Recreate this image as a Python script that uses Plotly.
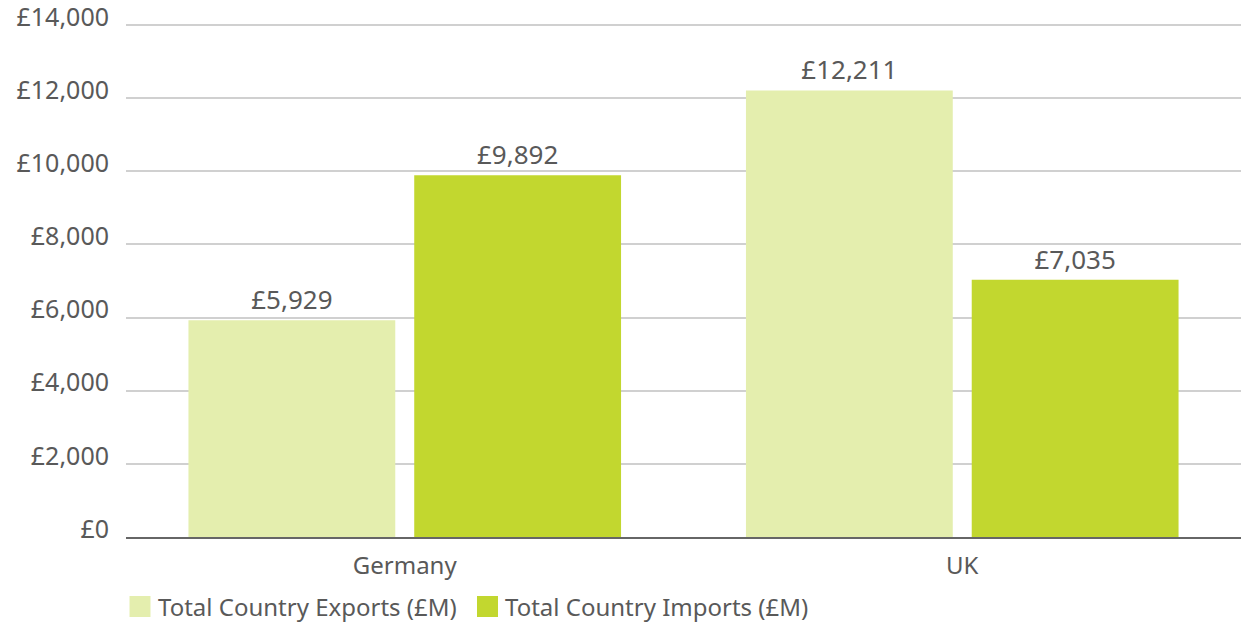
import plotly.graph_objects as go

countries = ["Germany", "UK"]
exports = [5929, 12211]
imports = [9892, 7035]
series_names = ["Total Country Exports (£M)", "Total Country Imports (£M)"]
series_colors = ["#e4eeae", "#c2d72f"]
y_ticks = [0, 2000, 4000, 6000, 8000, 10000, 12000, 14000]
y_tick_labels = ["£0", "£2,000", "£4,000", "£6,000", "£8,000", "£10,000", "£12,000", "£14,000"]

FONT = "Noto Sans, Lato, sans-serif"
TEXT = "#595959"

W, H = 1241, 624
M = dict(l=126, r=0, t=23, b=87)
plot_w = W - M["l"] - M["r"]
plot_h = H - M["t"] - M["b"]


def px_x(px):
    # page pixel -> paper x
    return (px - M["l"]) / plot_w


def px_y(py):
    # page pixel -> paper y
    return (H - M["b"] - py) / plot_h


fig = go.Figure()
for name, vals, color in zip(series_names, [exports, imports], series_colors):
    fig.add_trace(go.Bar(
        x=countries, y=vals, name=name, showlegend=False,
        marker=dict(color=color, line=dict(width=0)),
        text=[f"£{v:,}" for v in vals],
        textposition="outside",
        textfont=dict(size=26, color=TEXT, family=FONT),
        cliponaxis=False,
    ))

# Legend drawn as swatches + labels below the axis
legend_x = [129.5, 477]
for lx, name, color in zip(legend_x, series_names, series_colors):
    fig.add_shape(type="rect", xref="paper", yref="paper",
                  x0=px_x(lx), x1=px_x(lx + 21), y0=px_y(617), y1=px_y(596),
                  fillcolor=color, line=dict(width=0))
    fig.add_annotation(xref="paper", yref="paper", x=px_x(lx + 26), y=px_y(606.5),
                       xanchor="left", yanchor="middle", showarrow=False,
                       text=name, font=dict(size=24, color=TEXT, family=FONT))

fig.update_layout(
    width=W, height=H,
    margin=M,
    paper_bgcolor="white", plot_bgcolor="white",
    barmode="group", bargap=0.19, bargroupgap=0.084,
    font=dict(family=FONT, size=24, color=TEXT),
    showlegend=False,
    xaxis=dict(showgrid=False, showline=True, linecolor="#666666", linewidth=2,
               ticks="", ticklabelstandoff=6, automargin=False,
               tickfont=dict(size=24, color=TEXT)),
    yaxis=dict(range=[0, 14055], tickvals=y_ticks, ticktext=y_tick_labels,
               showgrid=True, gridcolor="#d0d0d0", gridwidth=2,
               zeroline=False, showline=False, ticks="", ticklabelstandoff=16,
               ticklabelshift=-8, ticklabeloverflow="allow", automargin=False,
               tickfont=dict(size=25, color=TEXT)),
)

fig.write_html("out.html")
